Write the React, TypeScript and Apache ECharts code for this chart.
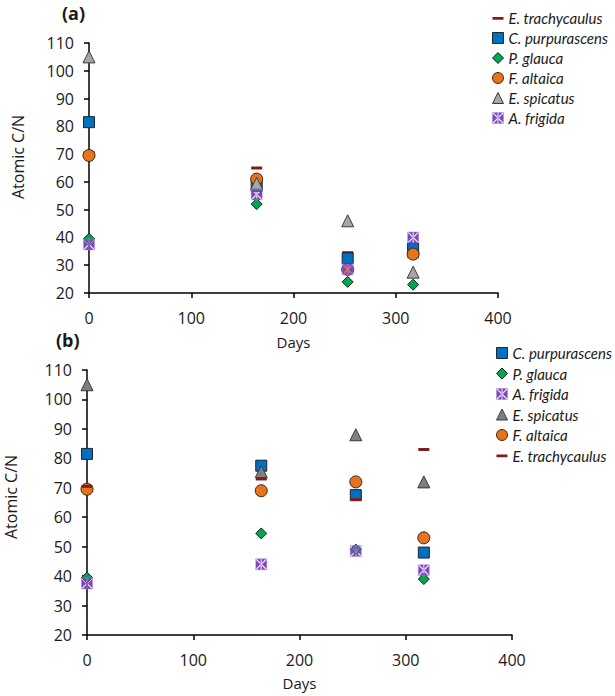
import React, { useEffect, useRef } from "react";
import * as echarts from "echarts";

const days = [0, 164, 253, 317];
const xTicks = [0, 100, 200, 300, 400];
const yTicks = [20, 30, 40, 50, 60, 70, 80, 90, 100, 110];

// Panel (a)
const aTrachycaulus = [70.5, 65, 34.5, 33];
const aPurpurascens = [81.5, 58.5, 32.5, 36];
const aGlauca = [39.5, 52, 24, 23];
const aAltaica = [69.5, 61, 28.5, 34];
const aSpicatus = [105, 59.5, 46, 27.5];
const aFrigida = [37.5, 55.5, 28.5, 40];

// Panel (b)
const bPurpurascens = [81.5, 77.5, 67.5, 48];
const bGlauca = [39.5, 54.5, 49, 39];
const bFrigida = [37.5, 44, 48.5, 42];
const bSpicatus = [105, 75.5, 88, 72];
const bAltaica = [69.5, 69, 72, 53];
const bTrachycaulus = [70.5, 73, 66, 83];

const FONT = "Open Sans";
const LFONT = "Lato";
const TXT = "#1a1a1a";

const FRIGIDA_PATH =
  "path://M0,0H10V10H0Z" +
  "M4.5,0V10H5.5V0Z" +
  "M0,0L0,0.75L4.25,5L0,9.25L0,10L0.75,10L4.5,6.25L4.5,3.75L0.75,0Z" +
  "M9.25,0L5.5,3.75L5.5,6.25L9.25,10L10,10L10,9.25L5.75,5L10,0.75L10,0Z";
const DASH_PATH = "path://M0,0H10V3H0Z";
const DASH_ICON =
  "path://M0,0h0.01v0.01h-0.01zM0,4h10v2.6h-10zM9.99,9.99h0.01v0.01h-0.01z";

type Sty = {
  symbol: string;
  size: number | number[];
  color: string;
  border: string;
  bw: number;
  icon: string;
};

const styles = (gray: string): Record<string, Sty> => ({
  "E. trachycaulus": { symbol: DASH_PATH, size: [11, 3], color: "#7F1D1D", border: "#7F1D1D", bw: 0, icon: DASH_ICON },
  "C. purpurascens": { symbol: "rect", size: 11, color: "#0070C0", border: "#1b2430", bw: 1, icon: "rect" },
  "P. glauca": { symbol: "diamond", size: 11, color: "#00A651", border: "#10261a", bw: 1, icon: "diamond" },
  "F. altaica": { symbol: "circle", size: 12, color: "#E8731F", border: "#3a2410", bw: 1, icon: "circle" },
  "E. spicatus": { symbol: "triangle", size: 12, color: gray, border: "#3a3a3a", bw: 1, icon: "triangle" },
  "A. frigida": { symbol: FRIGIDA_PATH, size: 11, color: "#7D43BE", border: "#A889D6", bw: 0.4, icon: FRIGIDA_PATH },
});

const panelA: [string, number[]][] = [
  ["E. trachycaulus", aTrachycaulus],
  ["C. purpurascens", aPurpurascens],
  ["P. glauca", aGlauca],
  ["F. altaica", aAltaica],
  ["E. spicatus", aSpicatus],
  ["A. frigida", aFrigida],
];
const panelB: [string, number[]][] = [
  ["C. purpurascens", bPurpurascens],
  ["P. glauca", bGlauca],
  ["A. frigida", bFrigida],
  ["E. spicatus", bSpicatus],
  ["F. altaica", bAltaica],
  ["E. trachycaulus", bTrachycaulus],
];

export default function App() {
  const ref = useRef<HTMLDivElement>(null);
  useEffect(() => {
    if (!ref.current) return;
    const chart = echarts.init(ref.current, undefined, { renderer: "svg" });
    const sA = styles("#A6A6A6");
    const sB = styles("#7F7F7F");

    const mkSeries = (panel: [string, number[]][], st: Record<string, Sty>, idx: number) =>
      panel.map(([name, vals]) => {
        const s = st[name];
        return {
          type: "scatter",
          name,
          xAxisIndex: idx,
          yAxisIndex: idx,
          symbol: s.symbol,
          symbolSize: s.size,
          itemStyle: { color: s.color, borderColor: s.border, borderWidth: s.bw, opacity: 1 },
          data: days.map((d, i) => [d, vals[i]]),
        };
      });

    const mkLegend = (panel: [string, number[]][], st: Record<string, Sty>, left: number, top: number, gap: number) => ({
      orient: "vertical",
      left,
      top,
      padding: 0,
      itemGap: gap,
      itemWidth: 11,
      itemHeight: 11,
      selectedMode: false,
      textStyle: { fontFamily: LFONT, fontStyle: "italic", fontSize: 15, color: TXT, lineHeight: 20 },
      data: panel.map(([name]) => {
        const s = st[name];
        return {
          name,
          icon: s.icon,
          itemStyle: { color: s.color, borderColor: s.border, borderWidth: s.bw },
        };
      }),
    });

    const axisLineStyle = { color: "#000", width: 1.5 };
    const xAxes = [0, 1].map((i) => ({
      type: "value",
      gridIndex: i,
      min: xTicks[0],
      max: xTicks[xTicks.length - 1],
      interval: xTicks[1] - xTicks[0],
      name: "Days",
      nameLocation: "middle",
      nameGap: i === 0 ? 41 : 40,
      nameTextStyle: { fontFamily: FONT, fontSize: 15, color: TXT },
      axisLine: { show: true, onZero: false, lineStyle: axisLineStyle },
      axisTick: { show: true, length: 5, lineStyle: axisLineStyle },
      axisLabel: { margin: 17, fontFamily: FONT, fontSize: 16, color: TXT },
      splitLine: { show: false },
    }));
    const yAxes = [0, 1].map((i) => ({
      type: "value",
      gridIndex: i,
      min: yTicks[0],
      max: yTicks[yTicks.length - 1],
      interval: yTicks[1] - yTicks[0],
      axisLine: { show: true, onZero: false, lineStyle: axisLineStyle },
      axisTick: { show: true, length: 5, lineStyle: axisLineStyle },
      axisLabel: { margin: 15, fontFamily: FONT, fontSize: 16, color: TXT },
      splitLine: { show: false },
    }));

    chart.setOption({
      animation: false,
      backgroundColor: "#ffffff",
      grid: [
        { left: 89, top: 43, width: 409, height: 250 },
        { left: 87, top: 370, width: 425, height: 265 },
      ],
      xAxis: xAxes,
      yAxis: yAxes,
      legend: [mkLegend(panelA, sA, 492, 8, 0), mkLegend(panelB, sB, 496, 343, 0.5)],
      graphic: [
        { type: "text", left: 62, top: 4, style: { text: "(a)", fontFamily: FONT, fontWeight: "bold", fontSize: 18, fill: TXT } },
        { type: "text", left: 56, top: 331, style: { text: "(b)", fontFamily: FONT, fontWeight: "bold", fontSize: 18, fill: TXT } },
        { type: "text", x: 18, y: 157, rotation: Math.PI / 2, style: { text: "Atomic C/N", fontFamily: FONT, fontSize: 16, fill: TXT, align: "center", verticalAlign: "middle" } },
        { type: "text", x: 11, y: 497, rotation: Math.PI / 2, style: { text: "Atomic C/N", fontFamily: FONT, fontSize: 16, fill: TXT, align: "center", verticalAlign: "middle" } },
      ],
      series: [...mkSeries(panelA, sA, 0), ...mkSeries(panelB, sB, 1)],
    });
    return () => chart.dispose();
  }, []);
  return (
    <div
      ref={ref}
      style={{ position: "absolute", left: 0, top: 0, width: 615, height: 696, background: "#fff" }}
    />
  );
}
